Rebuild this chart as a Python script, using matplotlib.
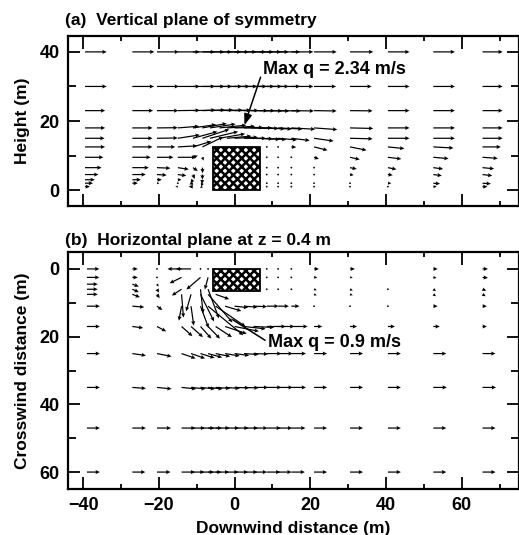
#!/usr/bin/env python3
# wind vectors around a cubical building: vertical and horizontal planes

import numpy as np
import matplotlib.pyplot as plt
from matplotlib.patches import Rectangle

n = np.nan

# ---- (a) vertical plane of symmetry: u, w (m/s) at column x / row z ----
xa_cols = [-39.5, -27, -20.5, -15, -11, -8.5, -6.5, -4, -2, 0, 2.5, 4.5, 6.5,
           8.5, 11.5, 15, 21, 30.5, 40.5, 52.5, 65.5]
za_rows = [40, 30, 23, 18, 15, 12.5, 9.5, 6.5, 4.5, 3, 2, 1]

ua = [
    [1.77, 1.8, 1.8, 1.8, 1.8, 1.8, 1.8, 1.8, 1.8, 1.8, 1.8, 1.8, 1.8, 1.8, 1.8, 1.8, 1.85, 1.9, 1.77, 1.77, 1.65],
    [1.77, 1.77, 1.8, 1.8, 1.8, 1.8, 1.8, 1.85, 1.85, 1.85, 1.85, 1.85, 1.85, 1.8, 1.8, 1.8, 1.8, 1.77, 1.77, 1.77, 1.65],
    [1.65, 1.7, 1.75, 1.8, 1.85, 1.85, 1.9, 1.9, 1.95, 1.95, 1.95, 1.9, 1.9, 1.85, 1.85, 1.85, 1.85, 1.85, 1.77, 1.77, 1.65],
    [1.65, 1.65, 1.7, 1.75, 1.9, 2.0, 2.1, 2.2, 2.3, 2.34, 2.3, 2.2, 2.1, 2.05, 2.0, 1.95, 1.9, 1.9, 1.77, 1.77, 1.65],
    [1.6, 1.65, 1.7, 1.8, 2.0, 2.2, 2.3, 2.1, 2.0, 1.9, 1.8, 1.75, 1.7, 1.6, 1.55, 1.5, 1.6, 1.85, 1.77, 1.77, 1.65],
    [1.64, 1.65, 1.5, 1.6, 1.5, 1.7, n, n, n, n, n, n, n, 0.02, 0.05, 0.4, 1.1, 1.35, 1.35, 1.65, 1.5],
    [1.5, 1.5, 1.35, 1.5, 0.4, 0.1, n, n, n, n, n, n, n, 0.02, 0.03, 0.05, 0.4, 0.8, 1.1, 1.25, 1.25],
    [1.35, 1.35, 1.1, 0.9, 0.4, 0.02, n, n, n, n, n, n, n, 0.02, 0.02, 0.03, 0.05, 0.55, 0.7, 0.8, 0.95],
    [1.1, 1.1, 0.8, 0.7, 0.15, 0.0, n, n, n, n, n, n, n, 0.02, 0.02, 0.02, 0.03, 0.3, 0.4, 0.7, 0.8],
    [0.8, 0.7, 0.4, 0.3, -0.2, -0.05, n, n, n, n, n, n, n, n, n, n, n, n, n, n, n],
    [0.65, 0.45, 0.2, -0.1, -0.3, -0.1, n, n, n, n, n, n, n, 0.02, 0.02, 0.02, 0.02, 0.15, 0.28, 0.55, 0.68],
    [0.4, n, n, -0.2, -0.35, -0.2, n, n, n, n, n, n, n, 0.02, 0.02, 0.02, 0.02, 0.05, 0.1, 0.28, 0.4],
]
wa = [
    [0] * 21,
    [0] * 21,
    [0, 0, 0, 0.03, 0.05, 0.06, 0.06, 0.05, 0.04, 0.02, 0, 0, -0.02, -0.03, -0.03, -0.03, -0.03, -0.02, 0, 0, 0],
    [0, 0, 0.02, 0.15, 0.3, 0.4, 0.35, 0.25, 0.15, 0.05, 0, -0.05, -0.08, -0.1, -0.1, -0.12, -0.15, -0.05, 0, 0, 0],
    [0, 0, 0.03, 0.3, 0.6, 0.8, 0.6, 0.4, 0.2, 0.1, 0, -0.05, -0.1, -0.12, -0.15, -0.2, -0.25, -0.05, 0, 0, 0],
    [0, 0, 0, 0.1, 0.5, 0.9, n, n, n, n, n, n, n, 0, 0, -0.02, -0.3, -0.3, -0.15, -0.1, 0],
    [0, 0, 0, 0, 0.15, -0.3, n, n, n, n, n, n, n, 0, 0, 0, -0.15, -0.2, -0.15, -0.12, -0.1],
    [0, 0, -0.05, -0.15, -0.3, -0.5, n, n, n, n, n, n, n, 0, 0, 0, 0, -0.12, -0.15, -0.12, -0.1],
    [0, 0, -0.05, -0.1, -0.4, -0.45, n, n, n, n, n, n, n, 0, 0, 0, 0, -0.05, -0.05, -0.1, -0.1],
    [0, 0, 0, 0, -0.3, -0.4, n, n, n, n, n, n, n, n, n, n, n, n, n, n, n],
    [0, 0, 0, 0, -0.1, -0.3, n, n, n, n, n, n, n, 0, 0, 0, 0, 0, 0, -0.05, -0.05],
    [0, n, n, 0, 0, -0.1, n, n, n, n, n, n, n, 0, 0, 0, 0, 0, 0, 0, 0],
]

# ---- (b) horizontal plane at z = 0.4 m: u, v (m/s) at column x / row y ----
xb_cols = [-39, -27, -20.5, -14, -11.5, -9, -7, -5, -2.5, 0, 2.5, 5, 8.5,
           11.5, 15, 21, 30.5, 40.5, 52.5, 65.5]
yb_rows = [0, 2.5, 4.5, 6, 7.5, 11, 17, 25, 35, 47, 60]

ub = [
    [0.23, 0.1, 0.02, -0.26, -0.28, 0.01, 0.01, n, n, n, n, n, -0.02, 0.02, 0.03, 0.09, 0.09, n, 0.08, 0.1],
    [0.23, 0.1, 0.02, -0.22, n, -0.26, -0.06, n, n, n, n, n, 0.01, 0.01, 0.01, 0.06, 0.05, n, 0.06, 0.1],
    [0.2, 0.12, 0.03, n, n, n, n, n, n, n, n, n, n, n, n, n, n, n, n, n],
    [0.2, 0.12, 0.04, -0.18, n, 0.05, 0.2, n, n, n, n, n, 0.01, 0.01, 0.01, 0.05, 0.05, 0.01, 0.05, 0.07],
    [0.2, 0.14, 0.05, 0.035, -0.09, 0.25, 0.45, 0.25, n, n, n, n, n, n, n, 0.05, 0.05, n, 0.05, 0.06],
    [0.24, 0.22, 0.1, -0.05, 0.05, 0.15, 0.65, 0.55, 0.3, 0.25, 0.25, 0.25, 0.22, 0.2, 0.15, 0.03, 0.02, 0.02, 0.08, 0.08],
    [0.24, 0.2, 0.17, 0.2, 0.22, 0.2, 0.22, 0.3, 0.4, 0.45, 0.4, 0.38, 0.35, 0.3, 0.3, 0.15, 0.13, 0.13, 0.12, 0.08],
    [0.24, 0.25, 0.27, 0.26, 0.26, 0.26, 0.26, 0.27, 0.27, 0.27, 0.27, 0.27, 0.27, 0.27, 0.27, 0.24, 0.24, 0.24, 0.24, 0.24],
    [0.24, 0.25, 0.27, 0.27, 0.27, 0.27, 0.27, 0.27, 0.27, 0.27, 0.27, 0.27, 0.27, 0.27, 0.27, 0.24, 0.24, 0.24, 0.25, 0.25],
    [0.24, 0.25, 0.26, 0.26, 0.26, 0.26, 0.26, 0.26, 0.26, 0.26, 0.26, 0.26, 0.26, 0.26, 0.26, 0.24, 0.24, 0.24, 0.24, 0.24],
    [0.24, 0.24, 0.25, 0.25, 0.25, 0.25, 0.25, 0.25, 0.25, 0.25, 0.25, 0.25, 0.25, 0.25, 0.25, 0.24, 0.24, 0.24, 0.24, 0.24],
]
vb = [
    [0, 0, 0, 0, 0, 0, 0, n, n, n, n, n, 0, 0, 0, 0, 0, n, 0, 0],
    [0, 0, 0, 0.12, n, 0.25, 0.25, n, n, n, n, n, 0, 0, 0, 0, 0, n, 0.01, 0.01],
    [0, 0.05, 0.05, n, n, n, n, n, n, n, n, n, n, n, n, n, n, n, n, n],
    [0, 0.06, 0.07, 0.13, n, 0.5, 0.6, n, n, n, n, n, 0, 0, 0, 0.02, 0.03, 0, 0.04, 0.03],
    [0, 0.06, 0.08, 0.48, 0.35, 0.56, 0.58, 0.1, n, n, n, n, n, n, n, 0.02, 0.02, n, 0.04, 0.04],
    [0, 0.02, 0.08, 0.3, 0.4, 0.45, 0.6, 0.42, 0.1, 0.03, 0.02, 0.01, 0, 0, 0, 0, 0, 0, 0, 0],
    [0, 0.03, 0.1, 0.2, 0.22, 0.25, 0.25, 0.22, 0.15, 0.1, 0.05, 0.02, 0, 0, 0, 0, 0, 0, 0, 0],
    [0, 0.04, 0.06, 0.1, 0.1, 0.09, 0.08, 0.06, 0.05, 0.04, 0.02, 0.01, 0, 0, 0, 0, 0, 0, 0, 0],
    [0, 0.02, 0.03, 0.03, 0.03, 0.03, 0.03, 0.02, 0.02, 0.01, 0.01, 0, 0, 0, 0, 0, 0, 0, 0, 0],
    [0] * 20,
    [0] * 20,
]

# building outline (m)
bldg_x0, bldg_len = -5.6, 12.2
bldg_h = 12.5
bldg_half_w = 6.5


def flat(cols, rows, u, v):
    X, Y = np.meshgrid(cols, rows)
    U = np.array(u, dtype=float)
    V = np.array(v, dtype=float)
    ok = ~(np.isnan(U) | np.isnan(V))
    return X[ok], Y[ok], U[ok], V[ok]


def style(ax, ymajor, yminor):
    ax.set_xlim(-44, 75)
    ax.set_xticks([-40, -20, 0, 20, 40, 60])
    ax.set_xticks([-30, -10, 10, 30, 50, 70], minor=True)
    ax.set_yticks(ymajor)
    ax.set_yticks(yminor, minor=True)
    ax.tick_params(which='both', direction='in', top=True, right=True,
                   width=1.3, labelsize=13, pad=6)
    ax.tick_params(axis='x', which='major', length=9)
    ax.tick_params(axis='x', which='minor', length=3.5)
    ax.tick_params(axis='y', which='major', length=8.5)
    ax.tick_params(axis='y', which='minor', length=5.5)
    for lab in ax.get_xticklabels() + ax.get_yticklabels():
        lab.set_fontweight('bold')
    for s in ax.spines.values():
        s.set_linewidth(1.6)


plt.rcParams['font.family'] = ['Liberation Sans', 'DejaVu Sans']
plt.rcParams['font.weight'] = 'bold'
plt.rcParams['hatch.linewidth'] = 1.8

fig = plt.figure(figsize=(5.19, 5.35), dpi=100)
ax_a = fig.add_axes([68 / 519, 1 - 206 / 535, 450.5 / 519, 170 / 535])
ax_b = fig.add_axes([68 / 519, 1 - 489 / 535, 450.5 / 519, 237 / 535])

qkw = dict(angles='xy', scale_units='xy', pivot='tail', color='black',
           width=0.0027, headwidth=3.4, headlength=3.6, headaxislength=3.2,
           minlength=1.6, zorder=2)

# (a)
X, Z, U, W = flat(xa_cols, za_rows, ua, wa)
ax_a.quiver(X, Z, U, W, scale=0.31, **qkw)
ax_a.add_patch(Rectangle((bldg_x0, 0), bldg_len, bldg_h, facecolor='white',
                         edgecolor='black', hatch='xxxx', lw=1.3, zorder=3))
ax_a.set_ylim(-4.6, 44.6)
style(ax_a, [0, 20, 40], [10, 30])
ax_a.tick_params(axis='x', labelbottom=False)
ax_a.set_ylabel('Height (m)', fontsize=12.5, fontweight='bold', labelpad=7)
ax_a.text(-0.007, 1.09, '(a)  Vertical plane of symmetry', transform=ax_a.transAxes,
          fontsize=12.5, fontweight='bold', ha='left', va='center')
ax_a.annotate('Max q = 2.34 m/s', xy=(2.6, 18.8), xytext=(7.6, 34.8),
              fontsize=13, fontweight='bold', ha='left', va='center',
              arrowprops=dict(arrowstyle='-|>,head_length=0.5,head_width=0.18',
                              color='black', lw=1.1, relpos=(0, 0.55),
                              shrinkA=0, shrinkB=0))

# (b)
X, Y, U, V = flat(xb_cols, yb_rows, ub, vb)
ax_b.quiver(X, Y, U, V, scale=0.07, **qkw)
ax_b.add_patch(Rectangle((bldg_x0, 0), bldg_len, bldg_half_w, facecolor='white',
                         edgecolor='black', hatch='xxxx', lw=1.3, zorder=3))
ax_b.set_ylim(65, -5)
style(ax_b, [0, 20, 40, 60], [10, 30, 50])
ax_b.set_ylabel('Crosswind distance (m)', fontsize=12.5, fontweight='bold', labelpad=7)
ax_b.set_xlabel('Downwind distance (m)', fontsize=12.5, fontweight='bold', labelpad=5)
ax_b.text(-0.007, 1.05, '(b)  Horizontal plane at z = 0.4 m', transform=ax_b.transAxes,
          fontsize=12.5, fontweight='bold', ha='left', va='center')
ax_b.annotate('Max q = 0.9 m/s', xy=(-0.5, 15.0), xytext=(8.8, 21.6),
              fontsize=13, fontweight='bold', ha='left', va='center',
              arrowprops=dict(arrowstyle='-', color='black', lw=1.1,
                              relpos=(0, 0.5), shrinkA=0, shrinkB=0))

fig.savefig('out.png', dpi=100)
